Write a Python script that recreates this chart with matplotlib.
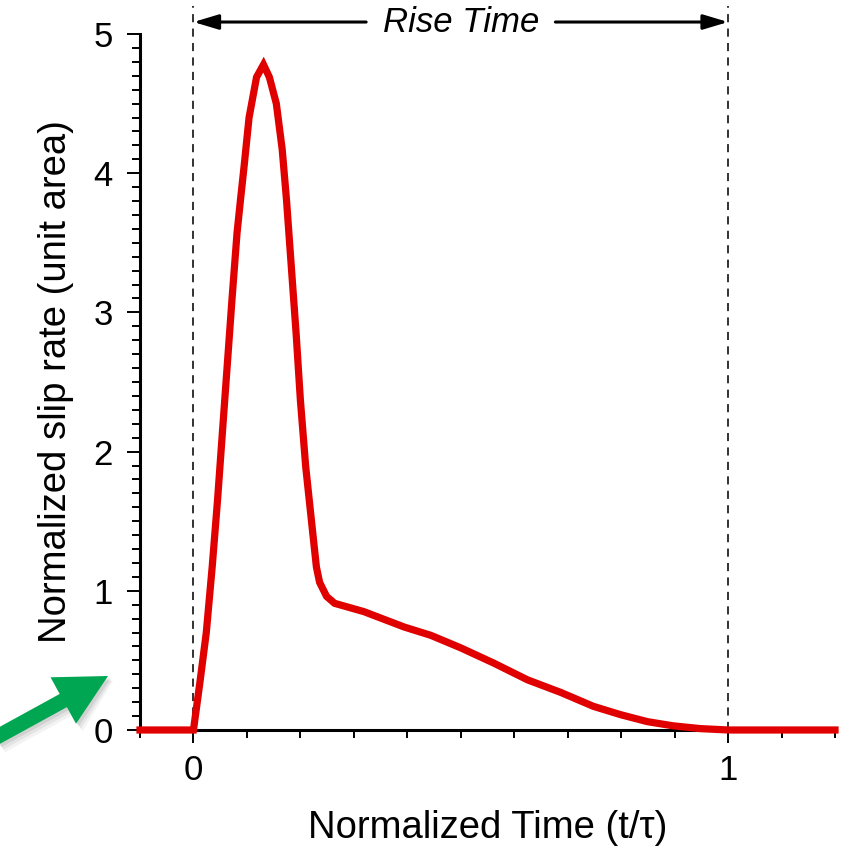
import matplotlib
matplotlib.use("Agg")
import matplotlib.pyplot as plt
from matplotlib.patches import FancyArrow
from matplotlib.ticker import MultipleLocator

plt.rcParams['font.family'] = ['Liberation Sans', 'DejaVu Sans']

# normalized slip-rate function (unit area) vs normalized time
t_norm = [-0.1, 0.0, 0.012, 0.024, 0.035, 0.045, 0.054, 0.063, 0.072, 0.0815,
          0.088, 0.095, 0.104, 0.118, 0.131, 0.142, 0.155, 0.166, 0.174, 0.183,
          0.192, 0.200, 0.210, 0.223, 0.230, 0.236, 0.249, 0.264, 0.319, 0.394,
          0.444, 0.5, 0.562, 0.625, 0.687, 0.748, 0.799, 0.849, 0.897, 0.948,
          1.0, 1.2]
slip_rate = [0.0, 0.0, 0.34, 0.70, 1.17, 1.65, 2.13, 2.61, 3.09, 3.57,
             3.81, 4.06, 4.40, 4.69, 4.78, 4.69, 4.50, 4.17, 3.81, 3.33,
             2.85, 2.37, 1.89, 1.42, 1.17, 1.06, 0.96, 0.91, 0.85, 0.74,
             0.68, 0.59, 0.48, 0.36, 0.27, 0.17, 0.11, 0.06, 0.03, 0.01,
             0.0, 0.0]
rise_start, rise_end = 0.0, 1.0

fig = plt.figure(figsize=(8.49, 8.52), dpi=100)
ax = fig.add_axes([0.1649, 0.1432, 0.8186, 0.8169])

ax.plot(t_norm, slip_rate, color='#e00000', lw=5.2, clip_on=False, zorder=5,
        solid_joinstyle='miter')

# rise time window
for xv in (rise_start, rise_end):
    ax.plot([xv, xv], [0, 5.2], color='#222222', lw=1.3, ls=(0, (4.5, 3.5)),
            clip_on=False, zorder=1)
head = '-|>,head_length=1.5,head_width=0.45'
ax.annotate('', xy=(rise_start, 5.086), xytext=(0.323, 5.086),
            arrowprops=dict(arrowstyle=head, color='k', lw=2.2,
                            shrinkA=0, shrinkB=0),
            annotation_clip=False)
ax.annotate('', xy=(rise_end, 5.086), xytext=(0.677, 5.086),
            arrowprops=dict(arrowstyle=head, color='k', lw=2.2,
                            shrinkA=0, shrinkB=0),
            annotation_clip=False)
ax.text(0.5, 5.086, 'Rise Time', ha='center', va='center', fontsize=25,
        style='italic', clip_on=False)

ax.set_xlim(-0.1, 1.2)
ax.set_ylim(0, 5)
ax.spines['top'].set_visible(False)
ax.spines['right'].set_visible(False)
ax.spines['left'].set_linewidth(2.2)
ax.spines['bottom'].set_linewidth(2.2)

ax.xaxis.set_major_locator(MultipleLocator(1))
ax.xaxis.set_minor_locator(MultipleLocator(0.1))
ax.yaxis.set_major_locator(MultipleLocator(1))
ax.yaxis.set_minor_locator(MultipleLocator(0.1))
ax.tick_params(which='major', length=9.5, width=1.4, labelsize=25)
ax.tick_params(axis='y', which='major', pad=10)
ax.tick_params(axis='x', which='major', pad=8)
ax.tick_params(which='minor', length=5.5, width=1.4)

ax.set_xlabel('Normalized Time (t/τ)', fontsize=27.5, labelpad=16)
ax.set_ylabel('Normalized slip rate (unit area)', fontsize=27.5, labelpad=14)

# green pointer at lower left, with a soft shadow
tail = (-0.05, (852 - 738) / 100)
tip = (1.08, (852 - 676) / 100)
dx, dy = tip[0] - tail[0], tip[1] - tail[1]
for i, a in enumerate([0.07, 0.09, 0.13]):
    off = 0.05 - i * 0.012
    grow = 0.03 * (2 - i)
    fig.patches.append(FancyArrow(tail[0] + off, tail[1] - off, dx, dy,
                                  width=0.15 + grow, head_width=0.53 + grow,
                                  head_length=0.51, length_includes_head=True,
                                  transform=fig.dpi_scale_trans, color='#555555',
                                  alpha=a, lw=0))
fig.patches.append(FancyArrow(tail[0], tail[1], dx, dy, width=0.15,
                              head_width=0.53, head_length=0.51,
                              length_includes_head=True,
                              transform=fig.dpi_scale_trans, color='#00a651',
                              lw=0))

fig.savefig('out.png', dpi=100)
